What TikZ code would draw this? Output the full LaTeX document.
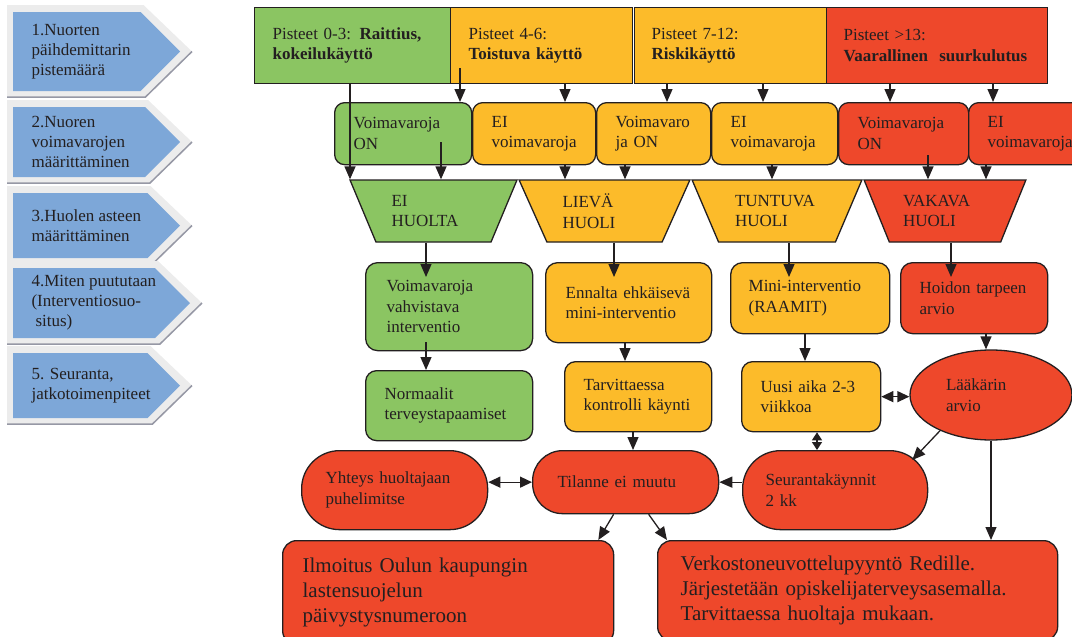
\documentclass[tikz,border=0pt]{standalone}
\usepackage{fontspec}
\setmainfont{Liberation Serif}
\usetikzlibrary{arrows.meta,shapes.geometric}
\definecolor{scoregreen}{RGB}{139,197,98}
\definecolor{scoreorange}{RGB}{252,187,42}
\definecolor{scorered}{RGB}{238,72,43}
\definecolor{stepblue}{RGB}{125,167,216}
\definecolor{stepgray}{RGB}{236,236,236}
\definecolor{edgegray}{RGB}{150,152,165}
\definecolor{inkdark}{RGB}{35,31,32}
\tikzset{
  % 基础字体
  txt/.style={font=\fontsize{17}{20.5}\selectfont, text=inkdark},
  % 左侧步骤文字
  steptxt/.style={txt, font=\fontsize{17}{20}\selectfont, anchor=west, align=left},
  % 方框 (左上角定位)
  box/.style={txt, draw=inkdark, line width=1.3pt, anchor=north west, align=left, inner ysep=0pt},
  % 尺寸: 宽 / 高 / 左边距
  wh/.style n args={3}{minimum width=#1pt, minimum height=#2pt, inner xsep=#3pt, text width=#1pt-2*#3pt},
  % 倒梯形
  level/.style={txt, trapezium, trapezium stretches=true, shape border rotate=180,
    trapezium angle=62, draw=inkdark, line width=1.3pt, minimum height=62pt,
    text width=84pt, align=left},
  % 箭头
  arr/.style={-{Triangle[length=13pt,width=11pt]}, line width=1.3pt, draw=inkdark},
  dbl/.style={{Triangle[length=12pt,width=11pt]}-{Triangle[length=12pt,width=11pt]}, line width=1.3pt, draw=inkdark},
  dblshort/.style={{Triangle[length=8pt,width=10pt]}-{Triangle[length=8pt,width=10pt]}, line width=1.3pt, draw=inkdark},
}
\begin{document}
\begin{tikzpicture}[x=1pt, y=-1pt]
  \useasboundingbox (0,0) rectangle (1072,637);

  % 左侧步骤
  \foreach \yt/\yb/\tp in {12/91/180, 107/177/180, 193/258/180, 268/338/190, 353/418/180}{
    \pgfmathsetmacro\sh{\tp-(\yb-\yt)/2}
    \pgfmathsetmacro\md{(\yt+\yb)/2}
    \fill[stepgray] (7,\yt-7) -- (\sh+3,\yt-7) -- (\tp+12,\md) -- (\sh+5,\yb+6) -- (7,\yb+6) -- cycle;
    \draw[edgegray, line width=1.5pt] (\tp+12,\md) -- (\sh+5,\yb+6) -- (7,\yb+6);
    \fill[stepblue] (13,\yt) -- (\sh,\yt) -- (\tp,\md) -- (\sh,\yb) -- (13,\yb) -- cycle;
  }
  \node[steptxt] (c1) at (28,51.5) {1.Nuorten\\päihdemittarin\\pistemäärä};
  \node[steptxt] (c2) at (28,142) {2.Nuoren\\voimavarojen\\määrittäminen};
  \node[steptxt] (c3) at (28,225.5) {3.Huolen asteen\\määrittäminen};
  \node[steptxt] (c4) at (28,303) {4.Miten puututaan\\(Interventiosuo-\\\hspace*{4pt}situs)};
  \node[steptxt] (c5) at (28,385.5) {5. Seuranta,\\jatkotoimenpiteet};

  % 分数
  \node[box, fill=scoregreen, wh={196}{76}{18}] (p03) at (254,7) {Pisteet 0-3: \textbf{Raittius,}\\\textbf{kokeilukäyttö}};
  \node[box, fill=scoreorange, wh={182}{76}{18}] (p46) at (450,7) {Pisteet 4-6:\\\textbf{Toistuva käyttö}};
  \node[box, fill=scoreorange, wh={192}{76}{17}] (p712) at (634,7) {Pisteet 7-12:\\\textbf{Riskikäyttö}};
  \node[box, fill=scorered, wh={221}{76}{17}] (p13) at (826,7) {Pisteet >13:\\\textbf{Vaarallinen\ \ suurkulutus}};

  % voimavarat
  \node[box, rounded corners=10pt, fill=scoregreen, wh={137}{62}{19}] (v1) at (334,102) {Voimavaroja\\ON};
  \node[box, rounded corners=10pt, fill=scoreorange, wh={123}{62}{19}] (v2) at (472,102) {EI\\voimavaroja};
  \node[box, rounded corners=10pt, fill=scoreorange, wh={114}{62}{19}] (v3) at (596,102) {Voimavaro\\ja ON};
  \node[box, rounded corners=10pt, fill=scoreorange, wh={126}{62}{19}] (v4) at (711,102) {EI\\voimavaroja};
  \node[box, rounded corners=10pt, fill=scorered, wh={130}{62}{19}] (v5) at (838,102) {Voimavaroja\\ON};
  \node[box, rounded corners=10pt, fill=scorered, wh={120}{62}{19}] (v6) at (968,102) {EI\\voimavaroja};

  % huolen aste
  \node[level, fill=scoregreen, minimum width=167pt] (tz1) at (433.5,211) {EI\\HUOLTA};
  \node[level, fill=scoreorange, minimum width=171pt] (tz2) at (604.5,211) {LIEVÄ\\HUOLI};
  \node[level, fill=scoreorange, minimum width=170pt] (tz3) at (777,211) {TUNTUVA\\HUOLI};
  \node[level, fill=scorered, minimum width=162pt] (tz4) at (945,211) {VAKAVA\\HUOLI};

  % interventio
  \node[box, rounded corners=12pt, fill=scoregreen, wh={167}{88}{21}] (vahv) at (365,262) {Voimavaroja\\vahvistava\\interventio};
  \node[box, rounded corners=12pt, fill=scoreorange, wh={166}{80}{20}] (enn) at (545,262) {Ennalta ehkäisevä\\mini-interventio};
  \node[box, rounded corners=12pt, fill=scoreorange, wh={159}{71}{18}] (mini) at (730,262) {Mini-interventio\\(RAAMIT)};
  \node[box, rounded corners=12pt, fill=scorered, wh={147}{71}{19}] (hoid) at (900,262) {Hoidon tarpeen\\arvio};

  % seuranta
  \node[box, rounded corners=11pt, fill=scoregreen, wh={167}{70}{19}] (norm) at (365,370) {Normaalit\\terveystapaamiset};
  \node[box, rounded corners=11pt, fill=scoreorange, wh={147}{70}{19}] (tarv) at (564,361) {Tarvittaessa\\kontrolli käynti};
  \node[box, rounded corners=11pt, fill=scoreorange, wh={139}{70}{19}] (uusi) at (741,361) {Uusi aika 2-3\\viikkoa};
  \node[txt, ellipse, draw=inkdark, line width=1.3pt, fill=scorered, minimum width=162pt, minimum height=90pt,
    text width=90pt, align=left] (laak) at (991,395) {Lääkärin\\arvio};

  \node[box, rounded corners=38pt, fill=scorered, wh={186}{79}{24}] (yht) at (301,450) {Yhteys huoltajaan\\puhelimitse};
  \node[box, rounded corners=30pt, fill=scorered, wh={186}{63}{25}] (til) at (532,450) {Tilanne ei muutu};
  \node[box, rounded corners=38pt, fill=scorered, wh={185}{79}{23}] (seur) at (742,450) {Seurantakäynnit\\2 kk};

  \node[box, rounded corners=14pt, fill=scorered, wh={331}{104}{20}, font=\fontsize{21}{25}\selectfont] (ilm) at (282,540)
    {Ilmoitus Oulun kaupungin\\lastensuojelun\\päivystysnumeroon};
  \node[box, rounded corners=14pt, fill=scorered, wh={400}{100}{23}, font=\fontsize{21}{25}\selectfont] (verk) at (657,540)
    {Verkostoneuvottelupyyntö Redille.\\Järjestetään opiskelijaterveysasemalla.\\Tarvittaessa huoltaja mukaan.};

  % 箭头起点/终点
  \coordinate (s46) at (460,68);
  \coordinate (sv1) at (441,142);
  \coordinate (sv5) at (928,155);
  \coordinate (e1) at (426,277);
  \coordinate (e2) at (614,277);
  \coordinate (e3) at (789,277);
  \coordinate (e4) at (951,277);
  \coordinate (sv7) at (426,342);

  \draw[arr] (p03.south -| 350,0) -- (tz1.bottom side -| 350,0);
  \draw[arr] (s46) -- (v1.north -| s46);
  \draw[arr] (p46.south -| 565,0) -- (v2.north -| 565,0);
  \draw[arr] (p712.south -| 667,0) -- (v3.north -| 667,0);
  \draw[arr] (p712.south -| 763,0) -- (v4.north -| 763,0);
  \draw[arr] (p13.south -| 890,0) -- (v5.north -| 890,0);
  \draw[arr] (p13.south -| 993,0) -- (v6.north -| 993,0);

  \draw[arr] (sv1) -- (tz1.bottom side -| sv1);
  \draw[arr] (v2.south -| 565,0) -- (tz2.bottom side -| 565,0);
  \draw[arr] (v3.south -| 625,0) -- (tz2.bottom side -| 625,0);
  \draw[arr] (v4.south -| 772,0) -- (tz3.bottom side -| 772,0);
  \draw[arr] (sv5) -- (tz4.bottom side -| sv5);
  \draw[arr] (v6.south -| 986,0) -- (tz4.bottom side -| 986,0);

  \draw[arr] (tz1.top side -| e1) -- (e1);
  \draw[arr] (tz2.top side -| e2) -- (e2);
  \draw[arr] (tz3.top side -| e3) -- (e3);
  \draw[arr] (tz4.top side -| e4) -- (e4);

  \draw[arr] (sv7) -- (norm.north -| sv7);
  \draw[arr] (enn.south -| 625,0) -- (tarv.north -| 625,0);
  \draw[arr] (mini.south -| 805,0) -- (uusi.north -| 805,0);
  \draw[arr] (hoid.south -| 986,0) -- (laak.north -| 986,0);

  \draw[dbl] (uusi.east) -- (laak.west |- uusi.east);
  \draw[arr] (tarv.south -| 633,0) -- (til.north -| 633,0);
  \draw[dblshort] (uusi.south -| 817,0) -- (seur.north -| 817,0);
  \draw[arr] (laak.215) -- ([xshift=-16pt,yshift=-10pt]seur.north east);
  \draw[arr] (laak.south) -- (verk.north -| laak.south);

  \draw[dbl] (yht.east |- til.west) -- (til.west);
  \draw[arr] (seur.west |- til.east) -- (til.east);
  \draw[arr] ([xshift=-12pt]til.south) -- ([xshift=-16pt]ilm.north east);
  \draw[arr] ([xshift=23pt]til.south) -- ([xshift=10pt]verk.north west);
\end{tikzpicture}
\end{document}
